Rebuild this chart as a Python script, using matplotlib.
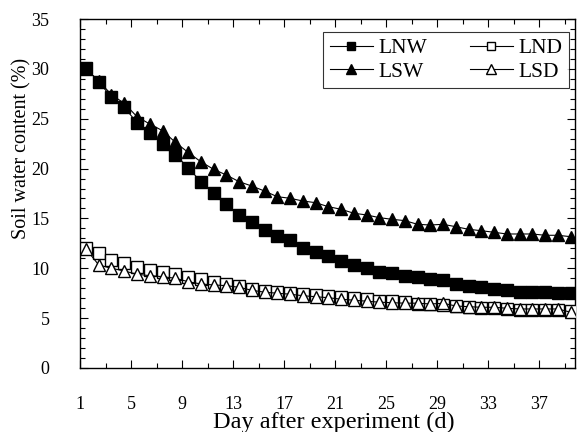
import matplotlib
matplotlib.use('Agg')
import matplotlib.pyplot as plt
import numpy as np
from matplotlib.ticker import FixedLocator, MultipleLocator

plt.rcParams['font.family'] = ['Liberation Serif', 'DejaVu Serif']

# day index 1..39 (sampling days)
days = list(range(1, 40))

# soil water content (%)
LNW = [30.06, 28.7, 27.15, 26.15, 24.6, 23.6, 22.5, 21.4, 20.1, 18.7,
       17.6, 16.45, 15.35, 14.6, 13.85, 13.24, 12.84, 12.07, 11.6, 11.23,
       10.76, 10.36, 10.0, 9.63, 9.5, 9.23, 9.1, 8.96, 8.83, 8.43,
       8.26, 8.09, 7.95, 7.79, 7.65, 7.65, 7.65, 7.55, 7.55]
LSW = [30.0, 28.8, 27.4, 26.55, 25.2, 24.47, 23.8, 22.64, 21.63, 20.69,
       19.93, 19.36, 18.69, 18.25, 17.75, 17.18, 17.02, 16.75, 16.58, 16.18,
       15.92, 15.52, 15.35, 15.08, 14.91, 14.78, 14.41, 14.34, 14.41, 14.17,
       13.91, 13.77, 13.61, 13.44, 13.44, 13.44, 13.31, 13.31, 13.17]
LND = [12.07, 11.5, 10.83, 10.5, 10.1, 9.83, 9.6, 9.4, 9.16, 8.9,
       8.6, 8.4, 8.22, 7.9, 7.72, 7.65, 7.55, 7.42, 7.32, 7.25,
       7.09, 6.99, 6.89, 6.75, 6.75, 6.6, 6.45, 6.4, 6.35, 6.2,
       6.1, 6.05, 6.0, 5.9, 5.85, 5.85, 5.8, 5.8, 5.7]
LSD = [11.94, 10.33, 10.0, 9.73, 9.4, 9.26, 9.16, 9.0, 8.66, 8.43,
       8.33, 8.26, 8.09, 7.8, 7.6, 7.5, 7.4, 7.25, 7.15, 7.05,
       6.9, 6.8, 6.7, 6.6, 6.55, 6.5, 6.5, 6.42, 6.49, 6.22,
       6.15, 6.09, 6.09, 5.99, 5.92, 5.92, 5.92, 5.92, 5.6]

tick_labels = ['1', '5', '9', '13', '17', '21', '25', '29', '33', '37']

fig = plt.figure(figsize=(5.79, 4.32), dpi=100)
ax = fig.add_axes([80/579, 64/432, 495/579, 349/432])

ax.plot(days, LSW, '-', color='black', lw=0.8, marker='^', ms=9,
        mfc='black', mec='black', label='LSW', zorder=3)
ax.plot(days, LNW, '-', color='black', lw=0.8, marker='s', ms=8,
        mfc='black', mec='black', label='LNW', zorder=4)
ax.plot(days, LND, '-', color='black', lw=0.8, marker='s', ms=8,
        mfc='white', mec='black', mew=1.0, label='LND', zorder=5)
ax.plot(days, LSD, '-', color='black', lw=0.8, marker='^', ms=9,
        mfc='white', mec='black', mew=1.0, label='LSD', zorder=6)

ax.set_xlim(0.53, 39.35)
ax.set_ylim(0, 35)

# tick marks sit half a day left of the sample points, as in the original
pos = [int(s) - 0.47 for s in tick_labels]
ax.xaxis.set_major_locator(FixedLocator(pos))
ax.set_xticklabels(tick_labels)
ax.xaxis.set_minor_locator(FixedLocator([p + 2 for p in pos]))
ax.yaxis.set_major_locator(MultipleLocator(5))
ax.yaxis.set_minor_locator(MultipleLocator(1))

ax.tick_params(which='both', direction='in', top=True, right=True,
               labelsize=13, width=0.8)
ax.tick_params(axis='x', which='major', length=6, pad=20)
ax.tick_params(axis='y', which='major', length=6, pad=22)
ax.tick_params(which='minor', length=3.5)
for s in ax.spines.values():
    s.set_linewidth(1.0)

fig.text(22/579, 1 - 148/432, 'Soil water content (%)', rotation=90,
         ha='center', va='center', fontsize=14.5)
fig.text(334/579, 1 - 422/432, 'Day after experiment (d)',
         ha='center', va='center', fontsize=17.5)

h, l = ax.get_legend_handles_labels()
order = [1, 0, 2, 3]
leg = ax.legend([h[i] for i in order], [l[i] for i in order], ncol=2,
                loc='upper right', bbox_to_anchor=(0.9875, 0.963),
                fontsize=15.5, fancybox=False, edgecolor='black',
                handlelength=2.0, handletextpad=0.25, columnspacing=2.0,
                borderpad=0.3, labelspacing=0.15, borderaxespad=0.0,
                markerscale=0.8)
leg.get_frame().set_linewidth(0.8)

fig.savefig('out.png', dpi=100)
